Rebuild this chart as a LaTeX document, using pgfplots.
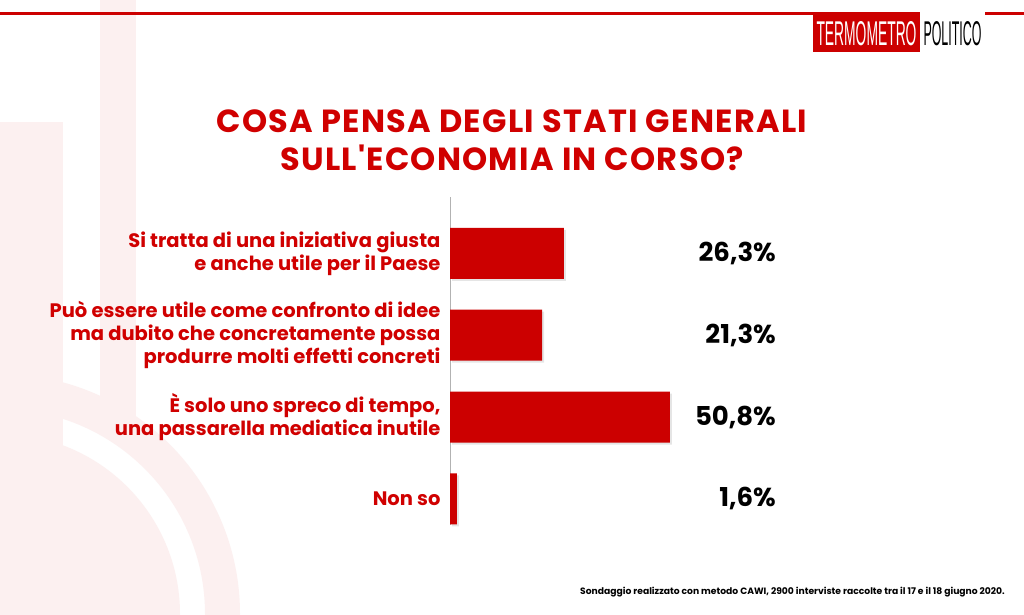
\documentclass[border=0pt]{standalone}
\usepackage{pgfplots}
\pgfplotsset{compat=1.18}
\usetikzlibrary{shadows}
\usepackage{graphicx}
\usepackage{fontspec}
\setmainfont{Poppins}
\newfontfamily\titlefont[LetterSpace=4]{Poppins}
\newfontfamily\logofont{Liberation Sans}
\definecolor{tpred}{HTML}{CC0000}
\definecolor{titlered}{HTML}{D00000}
\definecolor{bgpink}{HTML}{FCF0F0}
\begin{document}
\begin{tikzpicture}[x=1pt,y=1pt]
\useasboundingbox (0,0) rectangle (1024,614);
\fill[white] (0,0) rectangle (1024,614);
\begin{scope}
\clip (0,0) rectangle (1024,614);
\fill[bgpink] (100,194) rectangle (136,614);
\fill[bgpink] (0,0) rectangle (63,492);
\fill[bgpink] (0,0) circle (180);
\fill[bgpink,even odd rule] (0,0) circle (240) (0,0) circle (205);
\end{scope}
% top line and logo
\fill[tpred] (0,598.5) rectangle (1024,601.5);
\fill[tpred] (813,562) rectangle (920,600);
\fill[white] (920,562) rectangle (985,602);
\node[white, inner sep=0] at (866.5,580.5) {\resizebox{100pt}{24pt}{\logofont TERMOMETRO}};
\node[black, inner sep=0] at (952.5,580.5) {\resizebox{58pt}{24pt}{\logofont POLITICO}};
% title
\node[titlered, align=center, font=\fontsize{32}{38}\titlefont\bfseries] at (512,474) {COSA PENSA DEGLI STATI GENERALI\\SULL\symbol{39}ECONOMIA IN CORSO?};
\begin{axis}[
  at={(450pt,89pt)}, anchor=south west, scale only axis,
  width=433pt, height=328pt,
  xmin=0, xmax=100, ymin=-0.32, ymax=3.69,
  xbar, bar width=51pt,
  axis x line=none, axis y line*=left,
  y axis line style={draw=gray!60, line width=0.8pt},
  ytick={0,1,2,3},
  yticklabels={Non so, {È solo uno spreco di tempo,\\una passarella mediatica inutile}, {Può essere utile come confronto di idee\\ma dubito che concretamente possa\\produrre molti effetti concreti}, {Si tratta di una iniziativa giusta\\e anche utile per il Paese}},
  yticklabel style={align=right, text=titlered, font=\fontsize{19.5}{23}\selectfont\bfseries, anchor=east, xshift=-6pt},
  major tick length=0pt,
  clip=false,
]
\addplot[fill=tpred, draw=none, drop shadow={opacity=0.2, shadow xshift=2pt, shadow yshift=-2pt}] coordinates {(26.3,3) (21.3,2) (50.8,1) (1.6,0)};
\node[anchor=east, font=\fontsize{26}{30}\selectfont\bfseries, inner sep=0] at (axis cs:75.3,3) {26,3\%};
\node[anchor=east, font=\fontsize{26}{30}\selectfont\bfseries, inner sep=0] at (axis cs:75.3,2) {21,3\%};
\node[anchor=east, font=\fontsize{26}{30}\selectfont\bfseries, inner sep=0] at (axis cs:75.3,1) {50,8\%};
\node[anchor=east, font=\fontsize{26}{30}\selectfont\bfseries, inner sep=0] at (axis cs:75.3,0) {1,6\%};
\end{axis}
\node[anchor=east, inner sep=0, font=\fontsize{9.2}{11}\selectfont\bfseries] at (1005,22) {Sondaggio realizzato con metodo CAWI, 2900 interviste raccolte tra il 17 e il 18 giugno 2020.};
\end{tikzpicture}
\end{document}
